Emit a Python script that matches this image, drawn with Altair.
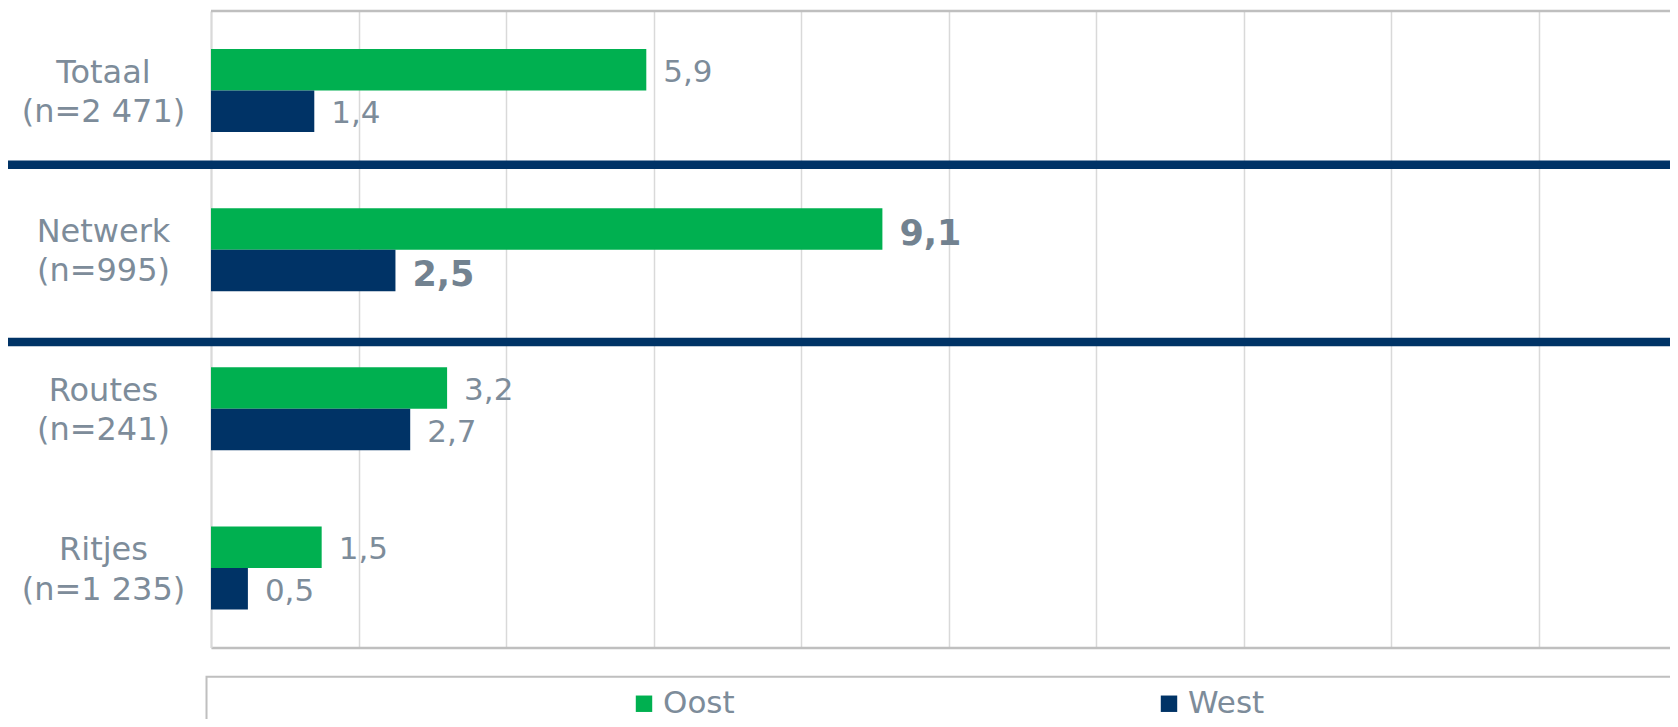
import altair as alt
import pandas as pd

# ---- data ----
categories = ["Totaal", "Netwerk", "Routes", "Ritjes"]
n_values = ["2 471", "995", "241", "1 235"]
series = ["Oost", "West"]
oost = [5.9, 9.1, 3.2, 1.5]
west = [1.4, 2.5, 2.7, 0.5]
highlight = ["Netwerk"]          # labels shown in bold
sep_after = ["Totaal"]           # thick separator just below this group
sep_before = ["Routes"]          # thick separator just above this group
x_ticks = [0, 2, 4, 6, 8, 10, 12, 14, 16, 18]

GREEN = "#00B050"
NAVY = "#003366"
TEXT = "#7D8C9A"
TEXT_BOLD = "#728290"
FONT = "DejaVu Sans"

labels = [f"{c}|(n={n})" for c, n in zip(categories, n_values)]
rows = []
for lab, c, o, w in zip(labels, categories, oost, west):
    rows.append({"cat": lab, "name": c, "series": "Oost", "value": o})
    rows.append({"cat": lab, "name": c, "series": "West", "value": w})
df = pd.DataFrame(rows)
df["bold"] = df["name"].isin(highlight)

W, H = 1459, 636.6
xscale = alt.Scale(domain=[0, 19.775], nice=False, zero=True)
yscale = alt.Scale(domain=labels, paddingInner=0, paddingOuter=0)
yoff = alt.YOffset("series:N", sort=series,
                   scale=alt.Scale(paddingOuter=0.9175, paddingInner=0))

base = alt.Chart(df)

bars = base.mark_bar().encode(
    x=alt.X("value:Q", scale=xscale,
            axis=alt.Axis(values=x_ticks, labels=False, ticks=False, title=None,
                          grid=True, gridColor="#D9D9D9", gridWidth=1.5,
                          domain=True, domainColor="#BFBFBF", domainWidth=2.5)),
    y=alt.Y("cat:N", scale=yscale,
            axis=alt.Axis(title=None, ticks=False, domain=True, domainColor="#D9D9D9",
                          domainWidth=2, labelExpr="split(datum.label, '|')",
                          labelFont=FONT, labelFontSize=32, labelColor=TEXT,
                          labelAlign="center", labelPadding=108, labelOffset=-18,
                          labelLineHeight=39.6, labelBaseline="middle",
                          labelLimit=400)),
    yOffset=yoff,
    color=alt.Color("series:N", sort=series,
                    scale=alt.Scale(domain=series, range=[GREEN, NAVY]),
                    legend=alt.Legend(title=None, orient="none", direction="horizontal",
                                      legendX=417.5, legendY=677, symbolType="square",
                                      symbolSize=270, symbolStrokeWidth=0,
                                      labelFont=FONT, labelFontSize=31,
                                      labelColor=TEXT, labelOffset=3.5,
                                      columnPadding=418, padding=0)),
)

label_enc = dict(
    x=alt.X("value:Q", scale=xscale),
    y=alt.Y("cat:N", scale=yscale),
    yOffset=yoff,
    text=alt.Text("lab:N"),
)

txt_normal = base.transform_filter("!datum.bold").transform_calculate(
    lab="replace(format(datum.value, '.1f'), '.', ',')"
).mark_text(align="left", baseline="middle", dx=17, dy=3, font=FONT, fontSize=31,
            color=TEXT).encode(**label_enc)

txt_bold = base.transform_filter("datum.bold").transform_calculate(
    lab="replace(format(datum.value, '.1f'), '.', ',')"
).mark_text(align="left", baseline="middle", dx=17, dy=5, font=FONT, fontSize=35,
            fontWeight="bold", color=TEXT_BOLD).encode(**label_enc)

top_border = alt.Chart(pd.DataFrame({"k": [0]})).mark_rule(
    color="#BFBFBF", strokeWidth=2.5).encode(y=alt.value(0))

sep1 = alt.Chart(pd.DataFrame({"cat": [labels[categories.index(c)] for c in sep_after]})).mark_rule(
    color=NAVY, strokeWidth=8.5).encode(
    y=alt.Y("cat:N", scale=yscale, bandPosition=0.9664),
    x=alt.value(-220), x2=alt.value(W + 50))

sep2 = alt.Chart(pd.DataFrame({"cat": [labels[categories.index(c)] for c in sep_before]})).mark_rule(
    color=NAVY, strokeWidth=8.5).encode(
    y=alt.Y("cat:N", scale=yscale, bandPosition=0.0798),
    x=alt.value(-220), x2=alt.value(W + 50))

legend_box = alt.Chart(pd.DataFrame({"k": [0]})).mark_rect(
    fill="white", fillOpacity=0, stroke="#BFBFBF", strokeWidth=2).encode(
    x=alt.value(-4.5), x2=alt.value(W + 100),
    y=alt.value(665.7), y2=alt.value(H + 200))

chart = alt.layer(legend_box, bars, top_border, sep1, sep2, txt_normal, txt_bold).properties(
    width=W, height=H,
    padding={"left": 203, "top": 3, "right": 0, "bottom": 71},
    autosize=alt.AutoSizeParams(type="none"),
).configure_view(stroke=None).configure(background="white")

chart.save("out.html", embed_options={"renderer": "svg", "actions": False})
